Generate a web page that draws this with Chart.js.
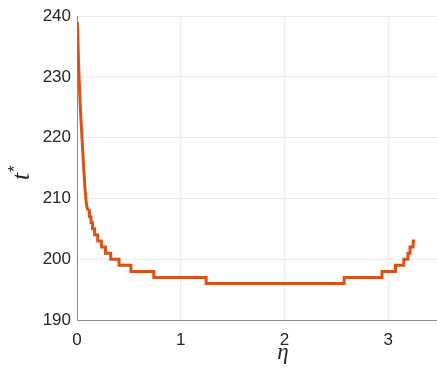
<!DOCTYPE html>
<html>
<head>
<meta charset="utf-8">
<script src="https://cdn.jsdelivr.net/npm/chart.js@4"></script>
<style>
  html, body { margin: 0; padding: 0; background: #fff; }
  #wrap { width: 437px; height: 369px; }
</style>
</head>
<body>
<div id="wrap"><canvas id="myChart" width="437" height="369"></canvas></div>
<script>
// steep early decay, drawn as a plain curve
const etaEarly = [0.005, 0.012, 0.022, 0.035, 0.048, 0.065, 0.08, 0.092, 0.105];
const tStarEarly = [239, 234, 229, 224, 220, 215, 211, 209, 208];
// eta where each level starts, and the t* level held from there (last point = end of line)
const etaSteps = [0.105, 0.12, 0.135, 0.15, 0.17, 0.2, 0.235, 0.275, 0.325, 0.405, 0.52, 0.74, 1.245, 2.575, 2.94, 3.07, 3.15, 3.19, 3.21, 3.24, 3.26];
const tStarSteps = [208, 207, 206, 205, 204, 203, 202, 201, 200, 199, 198, 197, 196, 197, 198, 199, 200, 201, 202, 203, 203];
const xTicks = [0, 1, 2, 3];
const yTicks = [190, 200, 210, 220, 230, 240];

const textColor = '#262626';
const gridColor = '#ebebeb';
const axisColor = '#8c8c8c';
const lineColor = '#D95319';

// y-axis title "t*" with the star raised, x-axis title "η"
const axisTitles = {
  id: 'axisTitles',
  afterDraw(chart) {
    const ctx = chart.ctx;
    ctx.save();
    ctx.fillStyle = textColor;
    ctx.translate(29, 172);
    ctx.rotate(-Math.PI / 2);
    ctx.textBaseline = 'alphabetic';
    ctx.font = 'italic 25px "Liberation Serif", serif';
    ctx.fillText('t', -8, 0);
    ctx.font = '17px "Liberation Sans", sans-serif';
    ctx.fillText('*', 0, -9);
    ctx.restore();

    ctx.save();
    ctx.fillStyle = textColor;
    ctx.font = 'italic 23px "Liberation Serif", serif';
    ctx.textAlign = 'center';
    ctx.textBaseline = 'alphabetic';
    ctx.fillText('η', 283, 359);
    ctx.restore();
  }
};

const toPoints = (xs, ys) => xs.map((x, i) => ({ x: x, y: ys[i] }));

const ctx = document.getElementById('myChart').getContext('2d');
new Chart(ctx, {
  type: 'line',
  data: {
    datasets: [{
      data: toPoints(etaEarly, tStarEarly),
      borderColor: lineColor,
      borderWidth: 3,
      pointRadius: 0,
      tension: 0.3,
      fill: false
    }, {
      data: toPoints(etaSteps, tStarSteps),
      borderColor: lineColor,
      borderWidth: 3,
      pointRadius: 0,
      stepped: 'before',
      fill: false
    }]
  },
  options: {
    responsive: false,
    animation: false,
    layout: { padding: { top: 16, right: 0, left: 0, bottom: 0 } },
    plugins: { legend: { display: false }, tooltip: { enabled: false } },
    scales: {
      x: {
        type: 'linear',
        min: 0,
        max: 3.47,
        afterBuildTicks: s => { s.ticks = xTicks.map(v => ({ value: v })); },
        afterFit: s => { s.height = 49; },
        grid: { color: gridColor, drawTicks: false },
        border: { color: axisColor, width: 1 },
        ticks: {
          color: textColor,
          padding: 10,
          maxRotation: 0,
          font: { family: '"Liberation Sans", Arial, sans-serif', size: 17 }
        }
      },
      y: {
        min: 190,
        max: 240,
        afterBuildTicks: s => { s.ticks = yTicks.map(v => ({ value: v })); },
        afterFit: s => { s.width = 77; },
        grid: { color: gridColor, drawTicks: false },
        border: { color: axisColor, width: 1 },
        ticks: {
          color: textColor,
          padding: 6,
          font: { family: '"Liberation Sans", Arial, sans-serif', size: 17 }
        }
      }
    }
  },
  plugins: [axisTitles]
});
</script>
</body>
</html>
